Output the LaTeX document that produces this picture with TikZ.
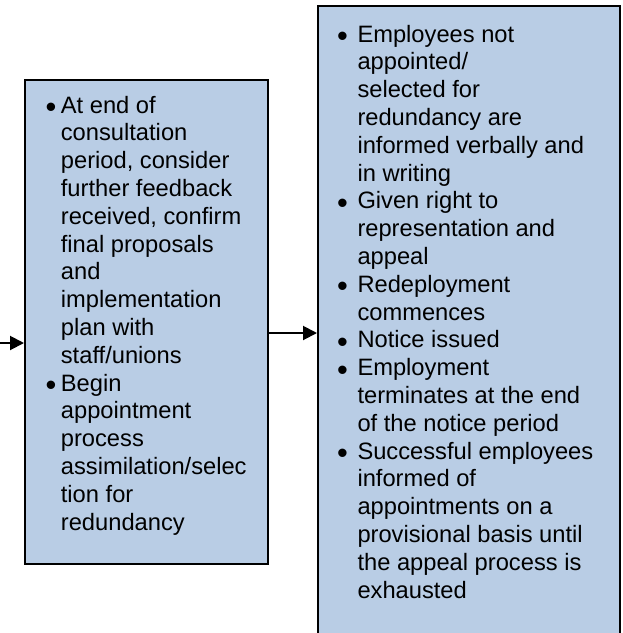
\documentclass[tikz,border=0pt]{standalone}
\usepackage{fontspec}
\setmainfont{Liberation Sans}
\usetikzlibrary{arrows.meta}
\definecolor{boxblue}{RGB}{185,205,229}
\newcommand{\bl}[1]{\makebox[#1][l]{\raisebox{-4.5pt}{\scalebox{1.3}{\textbullet}}}}

\begin{document}
\begin{tikzpicture}[x=1pt,y=-1pt,
		stage/.style={draw=black,line width=2pt,fill=boxblue,inner sep=0pt},
		flow/.style={line width=2pt,-{Triangle[length=14pt,width=14pt]}},
		items/.style={anchor=base west,inner sep=0pt,font=\fontsize{23.7}{27.8}\selectfont}]
		\useasboundingbox (0,0) rectangle (623,633);
		\node[stage,minimum width=243pt,minimum height=484pt] (consult) at (146.5,322) {};
		\node[stage,minimum width=301.5pt,minimum height=640pt] (outcome) at (468.75,326) {};
		\node[items] (consulttext) at (45.5,113) {\begin{tabular}[t]{@{}l@{}l@{}}
			\bl{15.2pt}&At end of\\
			&consultation\\
			&period, consider\\
			&further feedback\\
			&received, confirm\\
			&final proposals\\
			&and\\
			&implementation\\
			&plan with\\
			&staff/unions\\
			\bl{15.2pt}&Begin\\
			&appointment\\
			&process\\
			&assimilation/selec\\
			&tion for\\
			&redundancy
		\end{tabular}};
		\node[items] (outcometext) at (337,42) {\begin{tabular}[t]{@{}l@{}l@{}}
			\bl{20.3pt}&Employees not\\
			&appointed/\\
			&selected for\\
			&redundancy are\\
			&informed verbally and\\
			&in writing\\
			\bl{20.3pt}&Given right to\\
			&representation and\\
			&appeal\\
			\bl{20.3pt}&Redeployment\\
			&commences\\
			\bl{20.3pt}&Notice issued\\
			\bl{20.3pt}&Employment\\
			&terminates at the end\\
			&of the notice period\\
			\bl{20.3pt}&Successful employees\\
			&informed of\\
			&appointments on a\\
			&provisional basis until\\
			&the appeal process is\\
			&exhausted
		\end{tabular}};
		\coordinate (src) at (0,343);
		\coordinate (gap) at (0,333);
		\draw[flow] (src) -- (src -| consult.west);
		\draw[flow] (gap -| consult.east) -- (gap -| outcome.west);
	\end{tikzpicture}
\end{document}
